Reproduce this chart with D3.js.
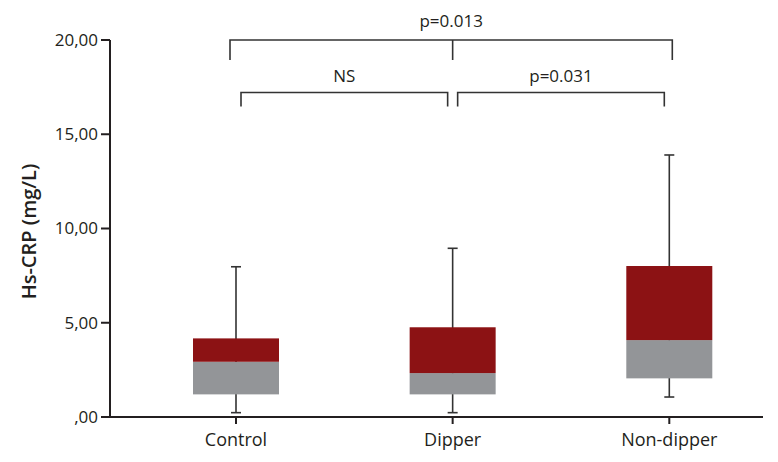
<!DOCTYPE html>
<html>
<head>
<meta charset="utf-8">
<script src="https://cdn.jsdelivr.net/npm/d3@7"></script>
<style>
  body { margin: 0; background: #fff; }
  text { font-family: "Open Sans", "DejaVu Sans", sans-serif; fill: #231f20; }
</style>
</head>
<body>
<svg width="778" height="462"></svg>
<script>
const categories = ["Control", "Dipper", "Non-dipper"];
const mins = [0.23, 0.23, 1.06];
const q1 = [1.20, 1.20, 2.05];
const medians = [2.93, 2.33, 4.08];
const q3 = [4.17, 4.76, 8.01];
const maxs = [7.97, 8.95, 13.90];

const yTicks = [0, 5, 10, 15, 20];
const yTickLabels = [",00", "5,00", "10,00", "15,00", "20,00"];

// comparisons drawn as brackets above the boxes
const compFrom = ["Control", "Control", "Dipper"];
const compTo = ["Non-dipper", "Dipper", "Non-dipper"];
const compLabels = ["p=0.013", "NS", "p=0.031"];
const compLevel = [0, 1, 1];

const svg = d3.select("svg");
const axisColor = "#231f20";
const red = "#8c1214";
const grey = "#939598";

const yScale = d3.scaleLinear().domain([0, 20]).range([417, 40]);
const xScale = d3.scalePoint().domain(categories).range([236, 669.3]);
const axisLeftX = 110, axisRightX = 763;
const boxW = 86, capW = 10;

// y axis
const yAxis = svg.append("g");
yAxis.append("line")
    .attr("x1", axisLeftX).attr("x2", axisLeftX)
    .attr("y1", yScale(20)).attr("y2", yScale(0))
    .attr("stroke", axisColor).attr("stroke-width", 2);
yAxis.selectAll(".tick")
    .data(yTicks)
    .join("line")
    .attr("x1", axisLeftX - 9).attr("x2", axisLeftX)
    .attr("y1", d => yScale(d)).attr("y2", d => yScale(d))
    .attr("stroke", axisColor).attr("stroke-width", 2);
yAxis.selectAll(".lbl")
    .data(yTicks)
    .join("text")
    .attr("x", axisLeftX - 12)
    .attr("y", d => yScale(d))
    .attr("dy", "0.35em")
    .attr("text-anchor", "end")
    .attr("font-size", 17)
    .text((d, i) => yTickLabels[i]);

svg.append("text")
    .attr("transform", `translate(36,${(yScale(0) + yScale(20)) / 2 + 3}) rotate(-90)`)
    .attr("text-anchor", "middle")
    .attr("font-size", 20)
    .attr("font-weight", 600)
    .text("Hs-CRP (mg/L)");

// x axis
svg.append("line")
    .attr("x1", axisLeftX - 1).attr("x2", axisRightX)
    .attr("y1", yScale(0)).attr("y2", yScale(0))
    .attr("stroke", axisColor).attr("stroke-width", 2);
svg.selectAll(".xtick")
    .data(categories)
    .join("line")
    .attr("x1", d => xScale(d)).attr("x2", d => xScale(d))
    .attr("y1", yScale(0)).attr("y2", yScale(0) + 7)
    .attr("stroke", axisColor).attr("stroke-width", 2);
svg.selectAll(".xlbl")
    .data(categories)
    .join("text")
    .attr("x", d => xScale(d))
    .attr("y", 446)
    .attr("text-anchor", "middle")
    .attr("font-size", 18)
    .text(d => d);

// boxes
const boxes = svg.selectAll(".box")
    .data(categories)
    .join("g");

boxes.append("line")
    .attr("x1", d => xScale(d)).attr("x2", d => xScale(d))
    .attr("y1", (d, i) => yScale(maxs[i])).attr("y2", (d, i) => yScale(mins[i]))
    .attr("stroke", "#333").attr("stroke-width", 1.6);
boxes.append("line")
    .attr("x1", d => xScale(d) - capW / 2).attr("x2", d => xScale(d) + capW / 2)
    .attr("y1", (d, i) => yScale(maxs[i])).attr("y2", (d, i) => yScale(maxs[i]))
    .attr("stroke", "#333").attr("stroke-width", 1.6);
boxes.append("line")
    .attr("x1", d => xScale(d) - capW / 2).attr("x2", d => xScale(d) + capW / 2)
    .attr("y1", (d, i) => yScale(mins[i])).attr("y2", (d, i) => yScale(mins[i]))
    .attr("stroke", "#333").attr("stroke-width", 1.6);
boxes.append("rect")
    .attr("x", d => xScale(d) - boxW / 2)
    .attr("width", boxW)
    .attr("y", (d, i) => yScale(medians[i]))
    .attr("height", (d, i) => yScale(q1[i]) - yScale(medians[i]))
    .attr("fill", grey);
boxes.append("rect")
    .attr("x", d => xScale(d) - boxW / 2)
    .attr("width", boxW)
    .attr("y", (d, i) => yScale(q3[i]))
    .attr("height", (d, i) => yScale(medians[i]) - yScale(q3[i]))
    .attr("fill", red);

// significance brackets
const levelY = [40, 92.5];
const levelDrop = [20, 14];
const levelTextY = [27, 82];
compLabels.forEach((label, i) => {
    const lv = compLevel[i];
    const y0 = levelY[lv], y1 = y0 + levelDrop[lv];
    let xa, xb;
    if (lv === 0) {
        xa = xScale(compFrom[i]) - 6;
        xb = xScale(compTo[i]) + 3;
    } else {
        xa = xScale(compFrom[i]) + 5;
        xb = xScale(compTo[i]) - 5;
    }
    svg.append("path")
        .attr("d", `M${xa},${y1}V${y0}H${xb}V${y1}`)
        .attr("fill", "none")
        .attr("stroke", "#333")
        .attr("stroke-width", 1.6);
    if (lv === 0) {
        const xm = xScale("Dipper");
        svg.append("line")
            .attr("x1", xm).attr("x2", xm)
            .attr("y1", y0).attr("y2", y1)
            .attr("stroke", "#333").attr("stroke-width", 1.6);
    }
    svg.append("text")
        .attr("x", (xa + xb) / 2)
        .attr("y", levelTextY[lv])
        .attr("text-anchor", "middle")
        .attr("font-size", 17)
        .text(label);
});
</script>
</body>
</html>
